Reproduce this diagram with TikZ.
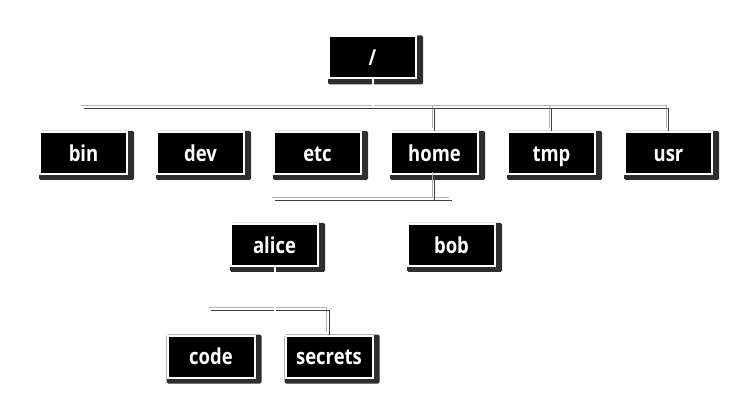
\documentclass[tikz,border=0pt]{standalone}
\usepackage{fontspec}
\setsansfont{Open Sans}[FakeStretch=0.84]
\usetikzlibrary{positioning,backgrounds}

\tikzset{
	dirbox/.style={rectangle, fill=black, draw=white, line width=2pt, text=white, minimum width=87pt, minimum height=42pt, inner sep=0pt, text height=16.4pt, text depth=0pt, font=\sffamily\bfseries\fontsize{22}{22}\selectfont},
	wire/.style={line width=0.8pt},
	cutwire/.style={draw=white, line width=2pt}
}

\begin{document}
\begin{tikzpicture}[x=1pt,y=1pt]
	\useasboundingbox (0,0) rectangle (746,-419);
	\node[dirbox] (root) at (372.5,-57.5) {/};
	\node[dirbox] (bin) at (83.5,-153) {bin};
		\node[dirbox, right=28pt of bin] (dev) {dev};
		\node[dirbox, right=28pt of dev] (etc) {etc};
		\node[dirbox, right=28pt of etc] (home) {home};
		\node[dirbox, right=28pt of home] (tmp) {tmp};
		\node[dirbox, right=28pt of tmp] (usr) {usr};
	\node[dirbox] (alice) at (274.5,-245) {alice};
		\node[dirbox, right=88pt of alice] (bob) {bob};
	\node[dirbox] (code) at (211,-356.5) {code};
		\node[dirbox, right=29pt of code] (secrets) {secrets};
	\coordinate (bus0) at (0,-108.3);
	\coordinate (bus1) at (0,-200.3);
	\coordinate (bus2) at (0,-310.7);
	\begin{scope}[on background layer]
		\foreach \n in {root,bin,dev,etc,home,tmp,usr,alice,bob,code,secrets}
			\fill[black!82, rounded corners=1.5pt] (\n.north west) rectangle ([shift={(6,-5)}]\n.south east);
	\end{scope}
	\foreach \tone/\dx/\dy in {black!30/-2.5/3, black!75/0/0}{
		\begin{scope}[transform canvas={shift={(\dx,\dy)}}, wire, color=\tone]
			\draw (bin |- bus0) -- (tmp |- bus0);
			\draw (home |- bus0) -- (home.north);
			\draw (tmp.north) |- (usr |- bus0) -- (usr.north);
			\draw (home.south) -- (home |- bus1);
			\draw (alice |- bus1) -- (bob |- bus1);
			\draw (code |- bus2) -| (secrets.north);
		\end{scope}
	}
	\draw[cutwire] (root.south) -- (root |- bus0);
	\draw[cutwire] (alice.south) -- (alice |- bus2);
\end{tikzpicture}
\end{document}
